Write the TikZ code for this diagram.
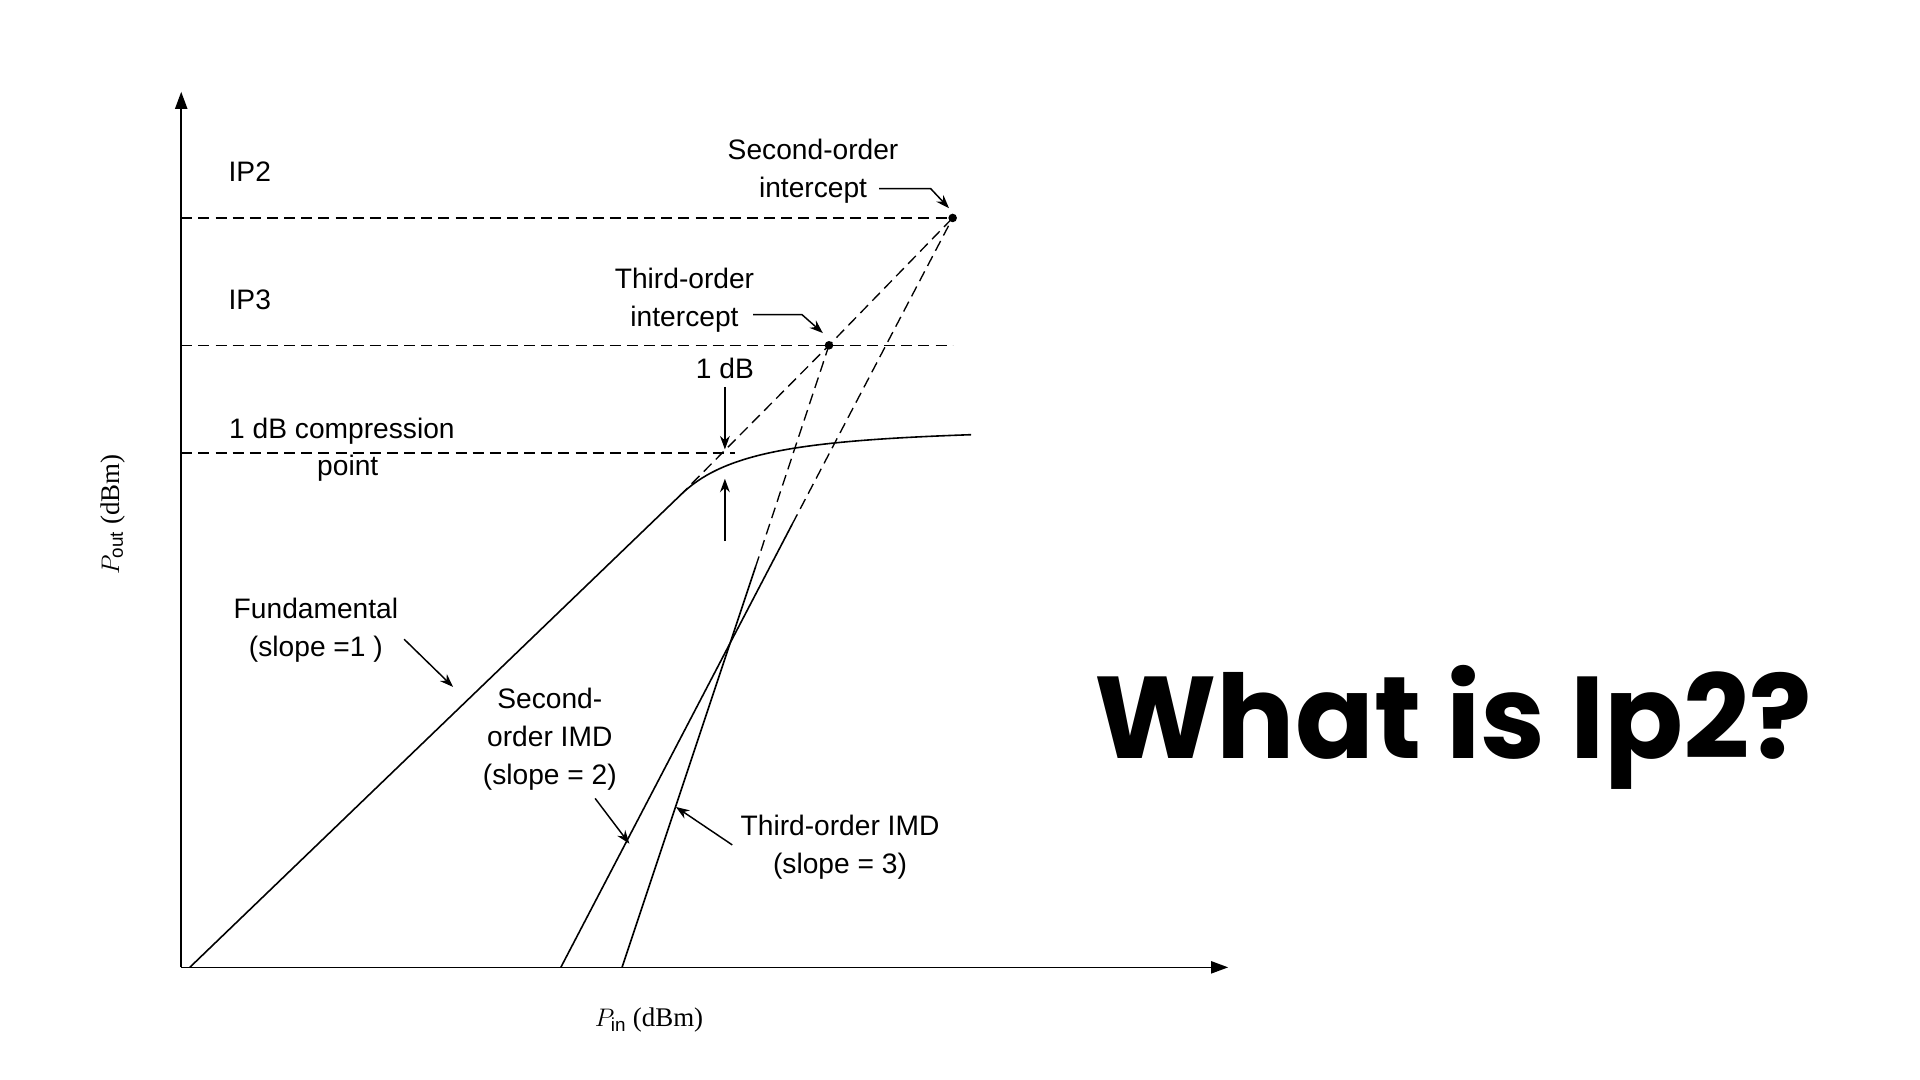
\documentclass[tikz,border=0pt]{standalone}
\usetikzlibrary{arrows.meta}
\usepackage{fontspec}
\setmainfont{Liberation Sans}
\newfontfamily\titlefont{Poppins}
\newfontfamily\seriffont{Liberation Serif}
\begin{document}
\begin{tikzpicture}[x=1pt,y=-1pt,
  lbl/.style={font=\fontsize{23}{31}\selectfont,align=center,inner sep=0pt},
  dsh/.style={dash pattern=on 9pt off 5pt,line width=1.1pt},
  ln/.style={line width=1.3pt},
  arr/.style={-{Stealth[length=11pt,width=8pt]},line width=1.2pt}]
\useasboundingbox[fill=white] (0,0) rectangle (1568,882);
% axes
\coordinate (O) at (148,790);
\coordinate (Ytop) at (148,75);
\coordinate (Xend) at (1003,790);
\draw[ln,-{Triangle[length=14pt,width=10pt]}] (O) -- (Ytop);
\draw[ln,-{Triangle[length=14pt,width=10pt]}] (O) -- (Xend);
% points
\coordinate (IPtwo) at (778,178);
\coordinate (IPthree) at (677,282);
\coordinate (K) at (555,405);
\draw[dsh] (148,178) -- (IPtwo);
\draw[dsh] (148,282) -- (778,282);
\draw[dsh] (148,370) -- (600,370);
% fundamental
\draw[ln] (155,790) -- (K) .. controls (590,370) and (650,360) .. (793,355);
\draw[dsh] (K) -- (IPthree) -- (IPtwo);
% second-order
\coordinate (S0) at (458,790);
\coordinate (S1) at (647,428);
\draw[ln] (S0) -- (S1);
\draw[dsh] (S1) -- (IPtwo);
% third-order
\coordinate (T0) at (508,790);
\coordinate (T1) at (617,463);
\draw[ln] (T0) -- (T1);
\draw[dsh] (T1) -- (IPthree);
\fill (IPtwo) circle (3.5pt);
\fill (IPthree) circle (3.5pt);
% 1 dB arrows
\coordinate (a1) at (592,316); \coordinate (a2) at (592,367);
\coordinate (b1) at (592,442); \coordinate (b2) at (592,391);
\draw[arr] (a1) -- (a2);
\draw[arr] (b1) -- (b2);
% labels
\node[lbl] (ip2) at (204,140) {IP2};
\node[lbl] (ip3) at (204,245) {IP3};
\node[lbl,anchor=west] (cp) at (187,352) {1 dB compression};
\node[lbl] (cp2) at (284,382) {point};
\node[lbl] (soi) at (664,140) {Second-order\\intercept};
\draw[arr] (718,154) -- (760,154) -- (775,170);
\node[lbl] (toi) at (559,245) {Third-order\\intercept};
\draw[arr] (615,257) -- (655,257) -- (672,272);
\node[lbl] (db) at (592,301) {1 dB};
\node[lbl] (fund) at (258,515) {Fundamental\\(slope =1 )};
\draw[arr] (330,522) -- (370,561);
\node[lbl] (sim) at (449,604) {Second-\\order IMD\\(slope = 2)};
\draw[arr] (486,652) -- (514,689);
\node[lbl] (tim) at (686,692) {Third-order IMD\\(slope = 3)};
\draw[arr] (598,690) -- (552,659);
\node[inner sep=0pt,font=\seriffont\fontsize{22}{24}\selectfont] (pin) at (530,833) {$P_{\mathrm{in}}$ (dBm)};
\node[inner sep=0pt,rotate=90,font=\seriffont\fontsize{22}{24}\selectfont] (pout) at (92,420) {$P_{\mathrm{out}}$ (dBm)};
\node[inner sep=0pt,font=\titlefont\bfseries\fontsize{95}{100}\selectfont] (title) at (1187,594) {What is Ip2?};
\end{tikzpicture}
\end{document}
